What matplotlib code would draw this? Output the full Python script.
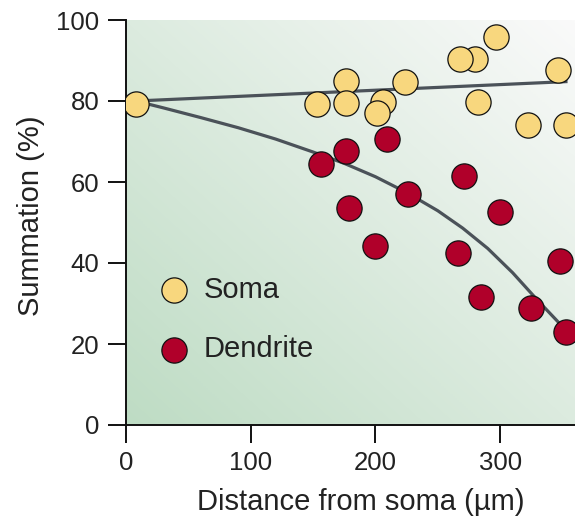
import numpy as np
import matplotlib
matplotlib.use("Agg")
import matplotlib.pyplot as plt
from matplotlib.colors import LinearSegmentedColormap

plt.rcParams['font.family'] = ['Liberation Sans', 'DejaVu Sans']

# Soma points (distance um, summation %)
soma_x = [8, 153, 176, 176, 206, 201, 224, 280, 268, 297, 282, 322, 346, 353]
soma_y = [79.3, 79.3, 85, 79.4, 79.8, 77, 84.8, 90.4, 90.4, 95.9, 79.7, 74, 87.7, 74]

# Dendrite points
dend_x = [156, 176, 209, 271, 226, 179, 200, 266, 300, 285, 325, 348, 353]
dend_y = [64.4, 67.7, 70.5, 61.5, 57, 53.7, 44.2, 42.5, 52.7, 31.7, 28.8, 40.5, 23]

# fitted curves as drawn in the figure
soma_fit_x = [8, 354]
soma_fit_y = [80.0, 84.8]
dend_fit_x = [8, 30, 60, 90, 120, 150, 175, 200, 225, 250, 270, 290, 310, 330, 354]
dend_fit_y = [80, 78.3, 75.9, 73.4, 70.6, 67.4, 64.6, 61.3, 57.4, 52.9, 48.6, 43.6, 37.6, 30.8, 23.0]

xticks = [0, 100, 200, 300]
yticks = [0, 20, 40, 60, 80, 100]

yellow = '#f8d77e'
red = '#b0002a'
line_col = '#4b5259'
text_col = '#222222'

fig = plt.figure(figsize=(5.75, 5.16), dpi=100)
ax = fig.add_axes([126 / 575, 91 / 516, 449 / 575, 405 / 516])

# background gradient: green bottom-left to white top-right
u, v = np.meshgrid(np.linspace(0, 1, 200), np.linspace(0, 1, 200))
grad = 0.5 * u + 0.5 * v
cmap = LinearSegmentedColormap.from_list('bg', ['#bedcc4', '#fafafa'])
ax.imshow(grad, extent=[0, 1, 0, 1], transform=ax.transAxes, origin='lower',
          cmap=cmap, aspect='auto', zorder=0, interpolation='bilinear')

ax.plot(soma_fit_x, soma_fit_y, color=line_col, lw=2.3, zorder=2, solid_capstyle='butt')
ax.plot(dend_fit_x, dend_fit_y, color=line_col, lw=2.3, zorder=2,
        solid_capstyle='butt', solid_joinstyle='round')

ax.scatter(soma_x, soma_y, s=330, c=yellow, edgecolors='#111111', linewidths=0.9,
           zorder=3, label='Soma')
ax.scatter(dend_x, dend_y, s=330, c=red, edgecolors='#111111', linewidths=0.9,
           zorder=3, label='Dendrite')

ax.set_xlim(0, 360)
ax.set_ylim(0, 100)
ax.set_xticks(xticks)
ax.set_yticks(yticks)

for s in ['top', 'right']:
    ax.spines[s].set_visible(False)
for s in ['left', 'bottom']:
    ax.spines[s].set_linewidth(1.4)
    ax.spines[s].set_color('#111111')

ax.tick_params(direction='out', length=13, width=1.4, color='#111111',
               labelsize=18.5, labelcolor=text_col, pad=6)

ax.set_xlabel('Distance from soma (µm)', fontsize=21, color=text_col)
ax.set_ylabel('Summation (%)', fontsize=21, color=text_col)
ax.xaxis.set_label_coords(0.523, -0.155)
ax.yaxis.set_label_coords(-0.18, 0.517)

ax.legend(loc='center left', bbox_to_anchor=(0.075, 0.26), frameon=False,
          fontsize=21, scatterpoints=1, handlelength=1.0, handletextpad=0.5,
          labelspacing=1.08, borderpad=0, borderaxespad=0, labelcolor=text_col)

fig.savefig('out.png', dpi=100)
